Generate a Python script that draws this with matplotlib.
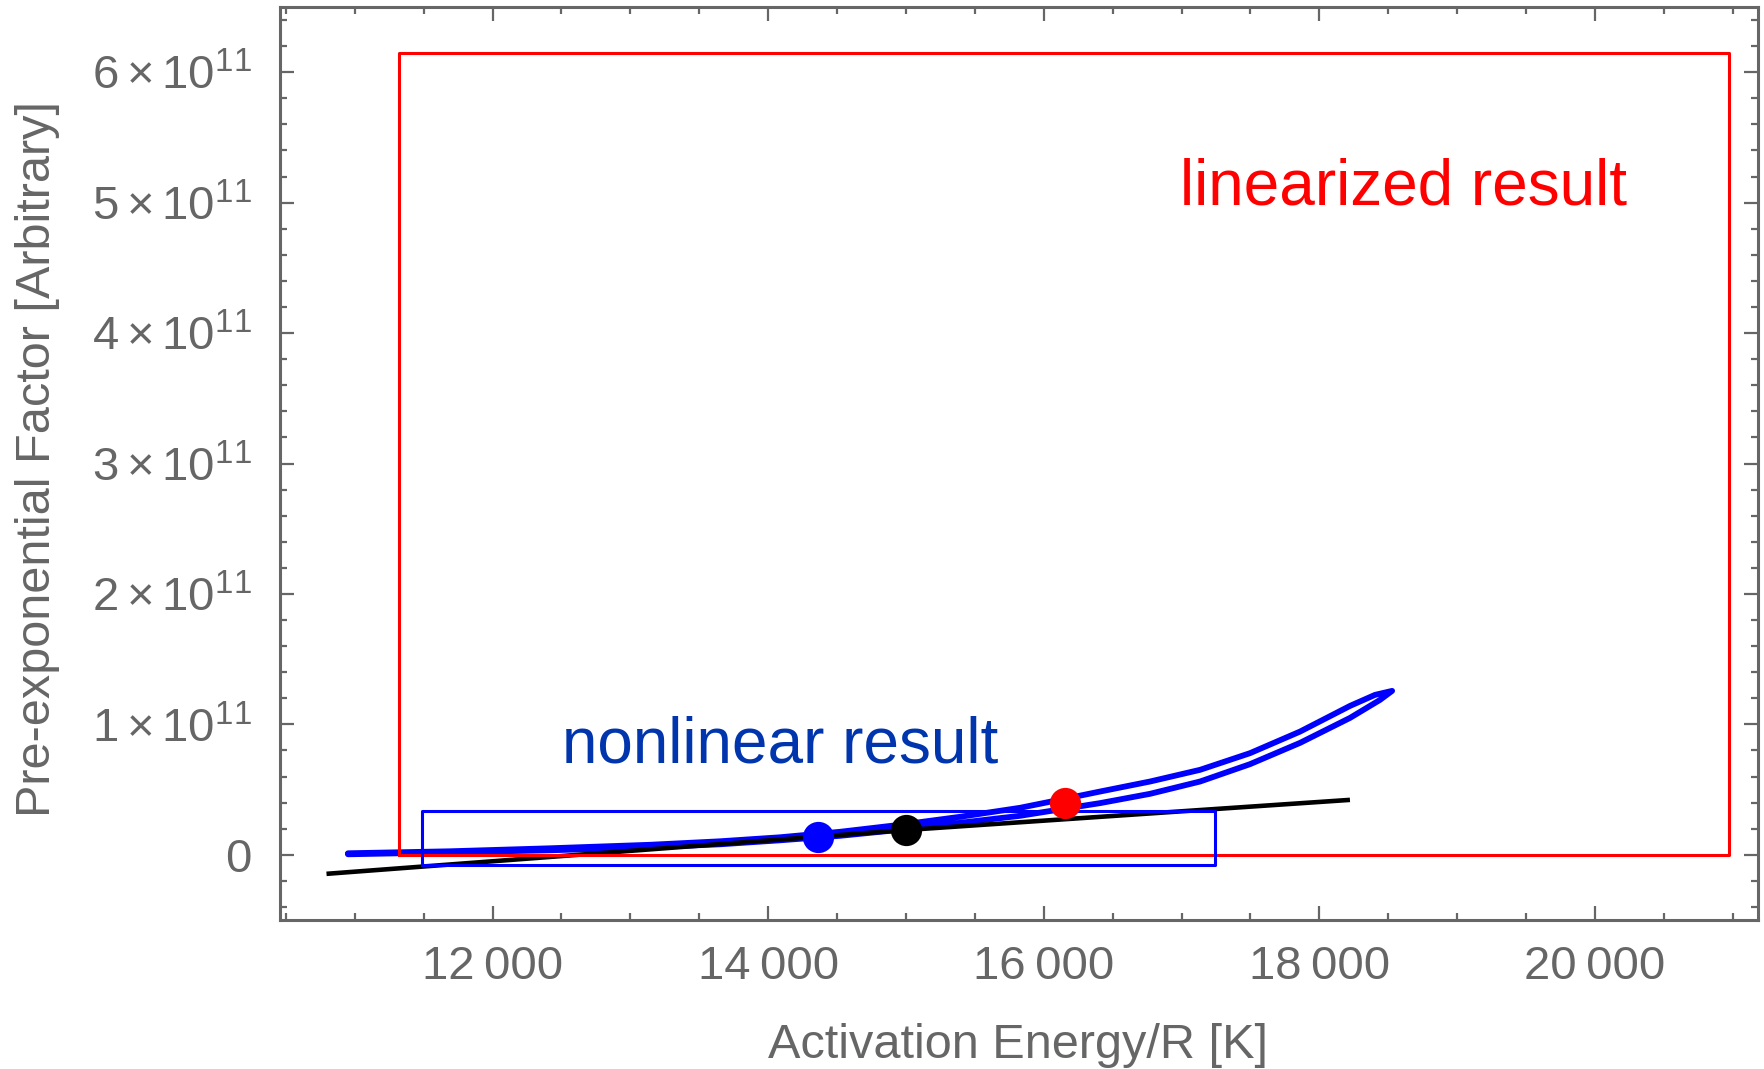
import matplotlib
matplotlib.use("Agg")
import matplotlib.pyplot as plt
from matplotlib.ticker import FixedLocator, MultipleLocator

plt.rcParams['font.family'] = ['Liberation Sans', 'DejaVu Sans']
plt.rcParams['mathtext.fontset'] = 'custom'
plt.rcParams['mathtext.rm'] = 'Liberation Sans'
plt.rcParams['mathtext.it'] = 'Liberation Sans'

# ---- data ----
# blue joint-confidence contour of the nonlinear fit (closed loop)
blue_upper_E = [10951, 11692, 12417, 13143, 13651, 14086, 14522, 14957, 15393, 15828,
                16169, 16409, 16771, 17134, 17497, 17860, 18223, 18404, 18528]
blue_upper_A = [0.0115e11, 0.0268e11, 0.0498e11, 0.0766e11, 0.1034e11, 0.1341e11, 0.1762e11,
                0.2299e11, 0.2912e11, 0.3602e11, 0.4330e11, 0.4851e11, 0.5617e11, 0.6513e11,
                0.7793e11, 0.9448e11, 1.1418e11, 1.2261e11, 1.2567e11]
blue_lower_E = [18440, 18223, 17860, 17497, 17134, 16771, 16409, 16169, 15828, 15393,
                14957, 14522, 14086, 13651, 13143, 12417, 11692, 10951]
blue_lower_A = [1.1877e11, 1.0498e11, 0.8582e11, 0.6950e11, 0.5617e11, 0.4674e11, 0.3962e11,
                0.3563e11, 0.2989e11, 0.2452e11, 0.1916e11, 0.1456e11, 0.1111e11, 0.0805e11,
                0.0575e11, 0.0345e11, 0.0192e11, 0.0038e11]

# black (linearized) contour, thin line
black_E = [10795, 15000, 18222]
black_A = [-0.146e11, 0.19e11, 0.421e11]

# rectangles (E range, A range)
red_rect_E = [11324, 20971]
red_rect_A = [0.0, 6.148e11]
blue_rect_E = [11491, 17245]
blue_rect_A = [-0.077e11, 0.339e11]

# best-fit points
pt_E = [14364, 15001, 16154]
pt_A = [0.136e11, 0.192e11, 0.396e11]
pt_colors = ['#0000FF', '#000000', '#FF0000']

# ticks
x_ticks = [12000, 14000, 16000, 18000, 20000]
x_tick_labels = ['12\u2009000', '14\u2009000', '16\u2009000', '18\u2009000', '20\u2009000']
y_ticks = [0, 1e11, 2e11, 3e11, 4e11, 5e11, 6e11]
y_tick_labels = ['0', r'$1\times10^{11}$', r'$2\times10^{11}$', r'$3\times10^{11}$',
                 r'$4\times10^{11}$', r'$5\times10^{11}$', r'$6\times10^{11}$']

GRAY = '#666666'

fig = plt.figure(figsize=(17.65, 10.69), dpi=100)
ax = fig.add_axes([0.15836, 0.13938, 0.83767, 0.85407])

# blue closed contour
loop_E = blue_upper_E + blue_lower_E
loop_A = blue_upper_A + blue_lower_A
ax.plot(loop_E, loop_A, color='#0000FF', lw=4.2, solid_joinstyle='round',
        solid_capstyle='round', zorder=3)

# black line
ax.plot(black_E, black_A, color='black', lw=3.3, solid_capstyle='butt', zorder=4)

# rectangles
ax.plot([red_rect_E[0], red_rect_E[1], red_rect_E[1], red_rect_E[0], red_rect_E[0]],
        [red_rect_A[0], red_rect_A[0], red_rect_A[1], red_rect_A[1], red_rect_A[0]],
        color='#FF0000', lw=2.2, zorder=5)
ax.plot([blue_rect_E[0], blue_rect_E[1], blue_rect_E[1], blue_rect_E[0], blue_rect_E[0]],
        [blue_rect_A[0], blue_rect_A[0], blue_rect_A[1], blue_rect_A[1], blue_rect_A[0]],
        color='#0000FF', lw=2.2, zorder=5)

# points
for e, a, c in zip(pt_E, pt_A, pt_colors):
    ax.plot([e], [a], 'o', color=c, markersize=22.5, markeredgewidth=0, zorder=6)

# annotations
ax.text(16989, 4.988e11, 'linearized result', color='#FF0000', fontsize=46,
        ha='left', va='baseline', zorder=7)
ax.text(12502, 0.707e11, 'nonlinear result', color='#0035AD', fontsize=46,
        ha='left', va='baseline', zorder=7)

ax.set_xlim(10454, 21183)
ax.set_ylim(-0.5e11, 6.5e11)

ax.xaxis.set_major_locator(FixedLocator(x_ticks))
ax.set_xticklabels(x_tick_labels)
ax.xaxis.set_minor_locator(MultipleLocator(500))
ax.yaxis.set_major_locator(FixedLocator(y_ticks))
ax.set_yticklabels(y_tick_labels)
ax.yaxis.set_minor_locator(MultipleLocator(0.2e11))

for s in ax.spines.values():
    s.set_color(GRAY)
    s.set_linewidth(2.2)

ax.tick_params(which='both', direction='in', top=True, right=True,
               color=GRAY, labelcolor=GRAY, width=1.6)
ax.tick_params(which='major', length=10, labelsize=34)
ax.tick_params(which='minor', length=5)
ax.tick_params(axis='x', which='major', pad=18)
ax.tick_params(axis='y', which='major', pad=20)

fig.text(1018 / 1765, 1 - 1058 / 1069, 'Activation Energy/R [K]', color=GRAY,
         fontsize=35, ha='center', va='baseline')
fig.text(38 / 1765, 1 - 459 / 1069, 'Pre-exponential Factor [Arbitrary]', color=GRAY,
         fontsize=35, ha='center', va='center', rotation=90)

fig.savefig('out.png', dpi=100)
